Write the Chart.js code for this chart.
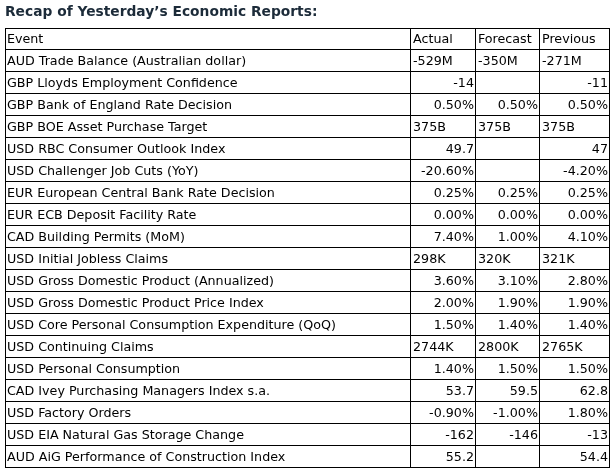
<!DOCTYPE html>
<html>
<head>
<meta charset="utf-8">
<script src="https://cdn.jsdelivr.net/npm/chart.js@4"></script>
<style>
  html, body { margin: 0; padding: 0; background: #fff; }
  #wrap { width: 615px; height: 468px; }
</style>
</head>
<body>
<div id="wrap"><canvas id="table"></canvas></div>
<script>
const headers = ['Event', 'Actual', 'Forecast', 'Previous'];
const events = [
  'AUD Trade Balance (Australian dollar)',
  'GBP Lloyds Employment Confidence',
  'GBP Bank of England Rate Decision',
  'GBP BOE Asset Purchase Target',
  'USD RBC Consumer Outlook Index',
  'USD Challenger Job Cuts (YoY)',
  'EUR European Central Bank Rate Decision',
  'EUR ECB Deposit Facility Rate',
  'CAD Building Permits (MoM)',
  'USD Initial Jobless Claims',
  'USD Gross Domestic Product (Annualized)',
  'USD Gross Domestic Product Price Index',
  'USD Core Personal Consumption Expenditure (QoQ)',
  'USD Continuing Claims',
  'USD Personal Consumption',
  'CAD Ivey Purchasing Managers Index s.a.',
  'USD Factory Orders',
  'USD EIA Natural Gas Storage Change',
  'AUD AiG Performance of Construction Index',
];
const actual = ['-529M', '-14', '0.50%', '375B', '49.7', '-20.60%', '0.25%', '0.00%', '7.40%', '298K',
  '3.60%', '2.00%', '1.50%', '2744K', '1.40%', '53.7', '-0.90%', '-162', '55.2'];
const forecast = ['-350M', '', '0.50%', '375B', '', '', '0.25%', '0.00%', '1.00%', '320K',
  '3.10%', '1.90%', '1.40%', '2800K', '1.50%', '59.5', '-1.00%', '-146', ''];
const previous = ['-271M', '-11', '0.50%', '375B', '47', '-4.20%', '0.25%', '0.00%', '4.10%', '321K',
  '2.80%', '1.90%', '1.40%', '2765K', '1.50%', '62.8', '1.80%', '-13', '54.4'];

// layout
const colWidths = [406, 65, 64, 70];
const cellFont = '12.7px "DejaVu Sans", Verdana, sans-serif';

const columns = [
  [headers[0], ...events],
  [headers[1], ...actual],
  [headers[2], ...forecast],
  [headers[3], ...previous],
];
const rowLabels = columns[0].map((_, i) => 'r' + i);

const edges = [0];
colWidths.forEach((w) => edges.push(edges[edges.length - 1] + w));

const datasets = columns.map((col, c) => ({
  data: col.map(() => [edges[c], edges[c + 1]]),
  cells: col,
  backgroundColor: '#ffffff',
  borderColor: '#000000',
  borderWidth: (ctx) => ({
    left: ctx.datasetIndex === 0 ? 1 : 0,
    top: ctx.dataIndex === 0 ? 1 : 0,
    right: 1,
    bottom: 1,
  }),
  borderSkipped: false,
  inflateAmount: 0,
  grouped: false,
  categoryPercentage: 1,
  barPercentage: 1,
}));

const cellText = {
  id: 'cellText',
  afterDatasetsDraw(chart) {
    const { ctx } = chart;
    ctx.save();
    ctx.font = cellFont;
    ctx.fillStyle = '#000000';
    ctx.textBaseline = 'middle';
    chart.data.datasets.forEach((ds, c) => {
      const meta = chart.getDatasetMeta(c);
      meta.data.forEach((bar, r) => {
        const text = ds.cells[r];
        if (!text) return;
        const { x, y, base } = bar.getProps(['x', 'y', 'base'], true);
        const left = Math.min(x, base);
        const right = Math.max(x, base);
        // text cells (header, events, values with M/B/K) sit on the left
        const leftAligned = r === 0 || c === 0 || /[A-Z]$/.test(text);
        if (leftAligned) {
          ctx.textAlign = 'left';
          ctx.fillText(text, left + 2, y + 1);
        } else {
          ctx.textAlign = 'right';
          ctx.fillText(text, right - 2, y + 1);
        }
      });
    });
    ctx.restore();
  },
};

new Chart(document.getElementById('table'), {
  type: 'bar',
  data: { labels: rowLabels, datasets },
  options: {
    indexAxis: 'y',
    responsive: true,
    maintainAspectRatio: false,
    animation: false,
    events: [],
    layout: { padding: { left: 5, right: 5, top: 0, bottom: 0 } },
    plugins: {
      legend: { display: false },
      tooltip: { enabled: false },
      title: {
        display: true,
        text: 'Recap of Yesterday\u2019s Economic Reports:',
        align: 'start',
        color: '#1c2b39',
        font: { family: '"DejaVu Sans", Verdana, sans-serif', size: 13.8, weight: 'bold', lineHeight: '21px' },
        padding: { top: 2, bottom: 5 },
      },
    },
    scales: {
      x: { display: false, min: 0, max: edges[edges.length - 1] },
      y: { display: false, offset: true },
    },
  },
  plugins: [cellText],
});
</script>
</body>
</html>
